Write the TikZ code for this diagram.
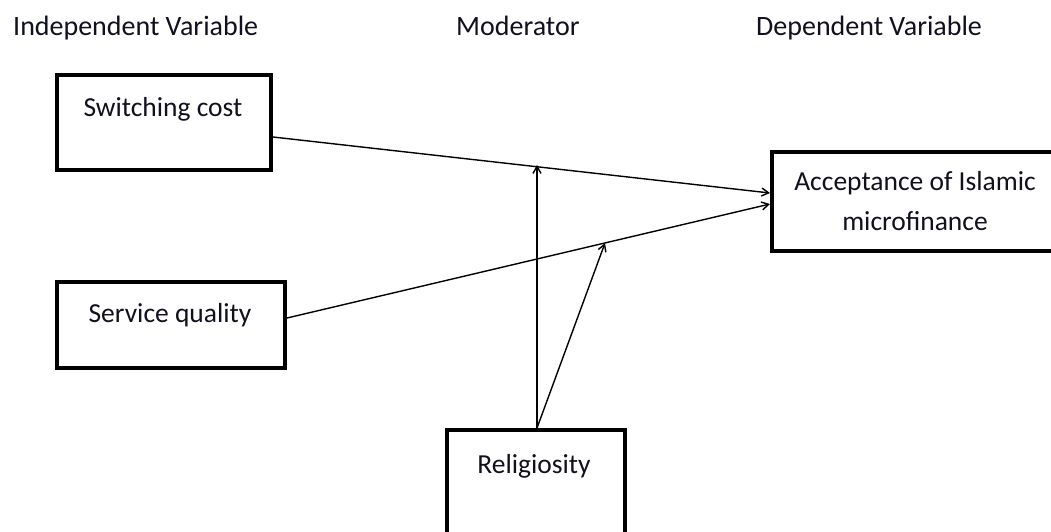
\documentclass[tikz,border=0pt]{standalone}
\usepackage{fontspec}
\setmainfont{Carlito}
\usetikzlibrary{arrows.meta,calc}
\definecolor{txt}{RGB}{16,16,30}
\begin{document}
\begin{tikzpicture}[x=1pt,y=-1pt,
  box/.style={draw=black,line width=4pt,inner sep=0pt,fill=white},
  lbl/.style={anchor=base,inner sep=0pt,text=txt,font=\fontsize{27.5}{40}\selectfont},
  hdr/.style={anchor=base west,inner sep=0pt,text=txt,font=\fontsize{28}{40}\selectfont},
  arr/.style={line width=1.4pt,-{Straight Barb[length=7pt,width=8pt]}}]
\useasboundingbox (0,0) rectangle (1051,531);
\fill[white] (0,0) rectangle (1051,531);
% headers
\node[hdr] (h1) at (13,35) {Independent Variable};
\node[hdr] (h2) at (456,35) {Moderator};
\node[hdr] (h3) at (756,35) {Dependent Variable};
% boxes
\node[box,minimum width=214pt,minimum height=95pt] (sc) at (164,122.5) {};
\node[box,minimum width=228pt,minimum height=86pt] (sq) at (171,325) {};
\node[box,minimum width=288pt,minimum height=99pt] (acc) at (916,201.5) {};
\node[box,minimum width=178pt,minimum height=130pt] (rel) at (536,495) {};
% labels
\node[lbl] (t1) at (163,116) {Switching cost};
\node[lbl] (t2) at (170,322) {Service quality};
\node[lbl] (t3) at (915,190) {Acceptance of Islamic};
\node[lbl] (t4) at (915,230) {microfinance};
\node[lbl] (t5) at (534,473) {Religiosity};
% helper coordinates
\coordinate (y1) at (0,137);
\coordinate (y2) at (0,318);
\coordinate (e1) at (0,193);
\coordinate (e2) at (0,204);
\coordinate (x1) at (537,0);
\coordinate (m1) at (537,165);
\coordinate (m2) at (605,243);
% connectors
\draw[arr] (sc.east |- y1) -- (acc.west |- e1);
\draw[arr] (sq.east |- y2) -- (acc.west |- e2);
\draw[arr] (rel.north -| x1) -- (m1);
\draw[arr] (rel.north -| x1) -- (m2);
\end{tikzpicture}
\end{document}
